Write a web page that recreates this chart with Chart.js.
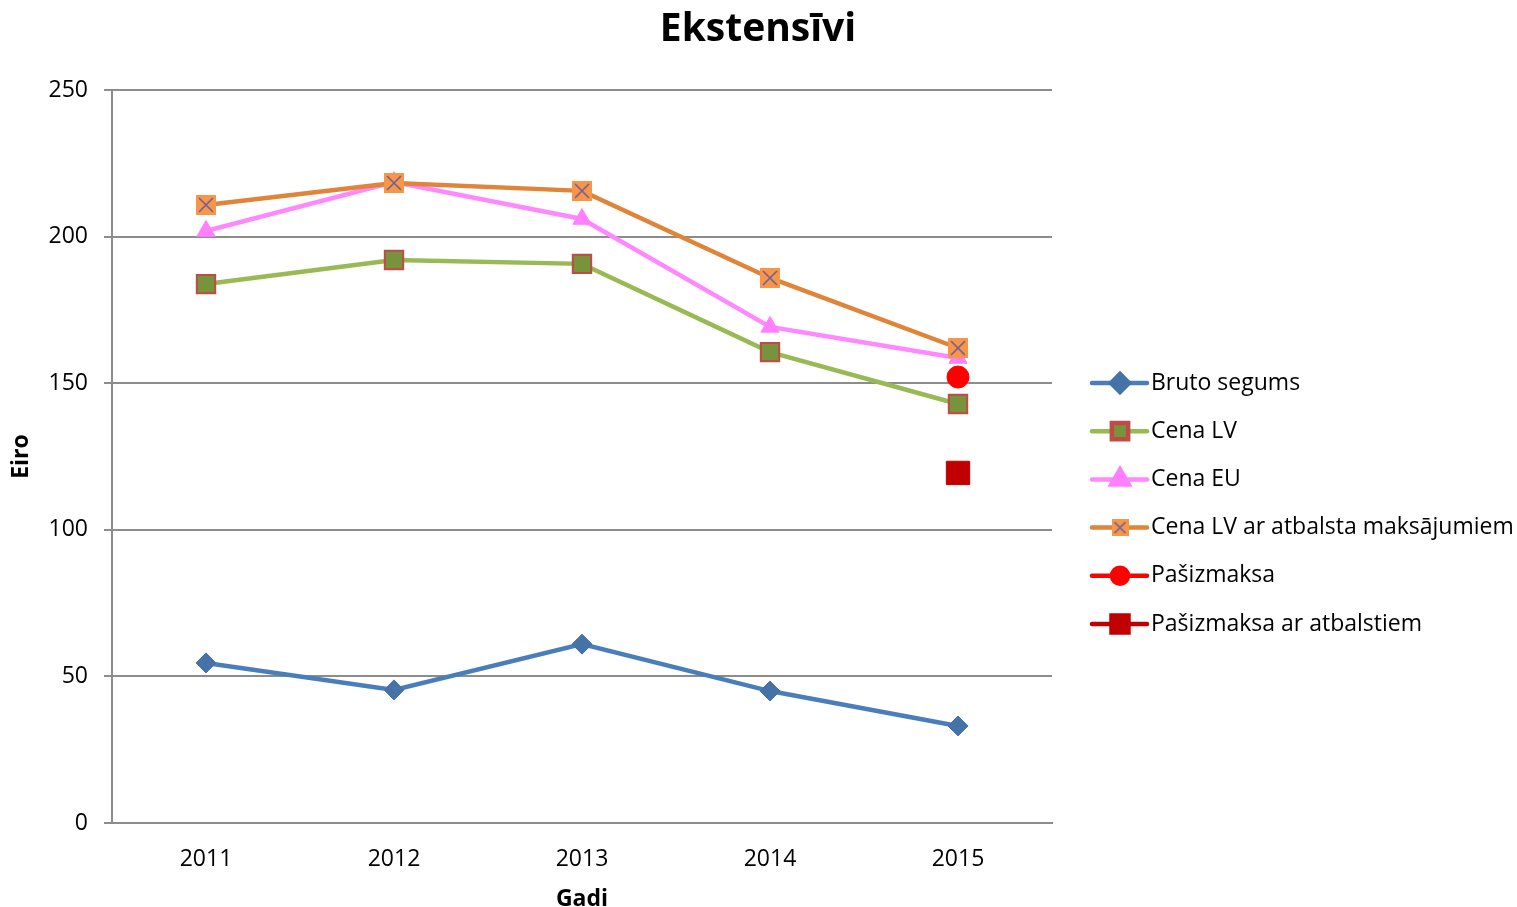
<!DOCTYPE html>
<html>
<head>
<meta charset="utf-8">
<script src="https://cdn.jsdelivr.net/npm/chart.js@4.4.1/dist/chart.umd.min.js"></script>
<style>
    html, body { margin: 0; padding: 0; background: #fff; }
    #wrap { width: 1517px; height: 907px; }
</style>
</head>
<body>
<div id="wrap"><canvas id="ekstChart" width="1517" height="907"></canvas></div>
<script>
// Ekstensīvi – euro per year
const years = ['2011', '2012', '2013', '2014', '2015'];

const brutoSegums = [54.6, 45.4, 61.0, 45.0, 33.1];
const cenaLV = [183.8, 192.0, 190.7, 160.6, 142.9];
const cenaEU = [201.9, 218.6, 206.0, 169.2, 158.6];
const cenaLVAtbalsts = [210.8, 218.3, 215.6, 185.9, 162.0];
const pasizmaksa = [null, null, null, null, 152.1];
const pasizmaksaAtbalsts = [null, null, null, null, 119.4];

const yTicks = [0, 50, 100, 150, 200, 250];

const FONT = "'Open Sans', 'Noto Sans', sans-serif";

// orange square with a cross for the "ar atbalsta maksājumiem" series
function crossSquare(size) {
    const c = document.createElement('canvas');
    c.width = size;
    c.height = size;
    const g = c.getContext('2d');
    g.fillStyle = '#F79646';
    g.fillRect(0, 0, size, size);
    g.strokeStyle = '#6F5FA0';
    g.lineWidth = 1.6;
    g.beginPath();
    g.moveTo(3, 3); g.lineTo(size - 3, size - 3);
    g.moveTo(size - 3, 3); g.lineTo(3, size - 3);
    g.stroke();
    return c;
}

// title centred on the whole canvas, not just the plot
const titlePlugin = {
    id: 'pageTitle',
    afterDraw(chart) {
        const ctx = chart.ctx;
        ctx.save();
        ctx.fillStyle = '#000';
        ctx.font = 'bold 39px ' + FONT;
        ctx.textAlign = 'center';
        ctx.textBaseline = 'middle';
        ctx.fillText('Ekstensīvi', 758, 30);
        ctx.restore();
    }
};

const legendPlugin = {
    id: 'sideLegend',
    afterDraw(chart) {
        const ctx = chart.ctx;
        const x0 = 1092, x1 = 1147, mx = 1120, tx = 1151;
        let y = 383;
        ctx.save();
        chart.data.datasets.forEach(ds => {
            ctx.strokeStyle = ds.borderColor;
            ctx.lineWidth = 4.5;
            ctx.lineCap = 'round';
            ctx.beginPath();
            ctx.moveTo(x0, y);
            ctx.lineTo(x1, y);
            ctx.stroke();
            ctx.fillStyle = ds.pointBackgroundColor;
            ctx.strokeStyle = ds.pointBorderColor;
            Chart.helpers.drawPoint(ctx, {
                pointStyle: ds.legendStyle || ds.pointStyle,
                rotation: 0,
                radius: ds.legendRadius,
                borderWidth: ds.pointBorderWidth
            }, mx, y);
            ctx.fillStyle = '#000';
            ctx.font = '23px ' + FONT;
            ctx.textAlign = 'left';
            ctx.textBaseline = 'middle';
            ctx.fillText(ds.label, tx, y);
            y += 48.2;
        });
        ctx.restore();
    }
};

function series(label, data, line, fill, border, style, radius, bw, order, legendRadius) {
    return {
        label: label,
        data: data,
        borderColor: line,
        backgroundColor: line,
        borderWidth: 4.5,
        pointStyle: style,
        pointRadius: radius,
        pointBackgroundColor: fill,
        pointBorderColor: border,
        pointBorderWidth: bw,
        legendRadius: legendRadius,
        tension: 0,
        fill: false,
        order: order
    };
}

const atbalstsSeries = series('Cena LV ar atbalsta maksājumiem', cenaLVAtbalsts, '#E0843A', '#F79646', '#F79646', crossSquare(20), 10, 0, 3, 10);
atbalstsSeries.legendStyle = crossSquare(17);

const ctx = document.getElementById('ekstChart');
new Chart(ctx, {
    type: 'line',
    data: {
        labels: years,
        datasets: [
            series('Bruto segums', brutoSegums, '#4A7EBB', '#4572A7', '#4572A7', 'rectRot', 10, 1, 6, 9),
            series('Cena LV', cenaLV, '#98B954', '#77933C', '#BE4B48', 'rect', 13, 2, 5, 11.5),
            series('Cena EU', cenaEU, '#FF88FF', '#FF80FF', '#FF80FF', 'triangle', 10.5, 1, 4, 10),
            atbalstsSeries,
            series('Pašizmaksa', pasizmaksa, '#FF0000', '#FF0000', '#FF0000', 'circle', 11, 1, 2, 8),
            series('Pašizmaksa ar atbalstiem', pasizmaksaAtbalsts, '#C00000', '#C00000', '#C00000', 'rect', 16.5, 1, 1, 12)
        ]
    },
    options: {
        responsive: false,
        animation: false,
        layout: {
            padding: { left: 0, right: 465, top: 90, bottom: 0 }
        },
        scales: {
            x: {
                offset: true,
                afterFit: s => { s.height = 84; },
                grid: {
                    display: true,
                    drawOnChartArea: false,
                    drawTicks: false
                },
                border: { display: true, color: '#8c8c8c', width: 2 },
                ticks: {
                    color: '#000',
                    padding: 23,
                    font: { family: FONT, size: 23 }
                },
                title: {
                    display: true,
                    text: 'Gadi',
                    color: '#000',
                    padding: { top: 0, bottom: -6 },
                    font: { family: FONT, size: 23, weight: 'bold' }
                }
            },
            y: {
                min: 0,
                max: 250,
                afterFit: s => { s.width = 112; },
                afterBuildTicks: s => { s.ticks = yTicks.map(v => ({ value: v })); },
                grid: {
                    color: '#8c8c8c',
                    lineWidth: 2,
                    tickLength: 8
                },
                border: { display: true, color: '#8c8c8c', width: 2 },
                ticks: {
                    color: '#000',
                    padding: 16,
                    font: { family: FONT, size: 23 }
                },
                title: {
                    display: true,
                    text: 'Eiro',
                    color: '#000',
                    padding: { top: 8, bottom: 0 },
                    font: { family: FONT, size: 23, weight: 'bold' }
                }
            }
        },
        plugins: {
            legend: { display: false },
            tooltip: { enabled: false },
            title: { display: false }
        }
    },
    plugins: [titlePlugin, legendPlugin]
});
</script>
</body>
</html>
